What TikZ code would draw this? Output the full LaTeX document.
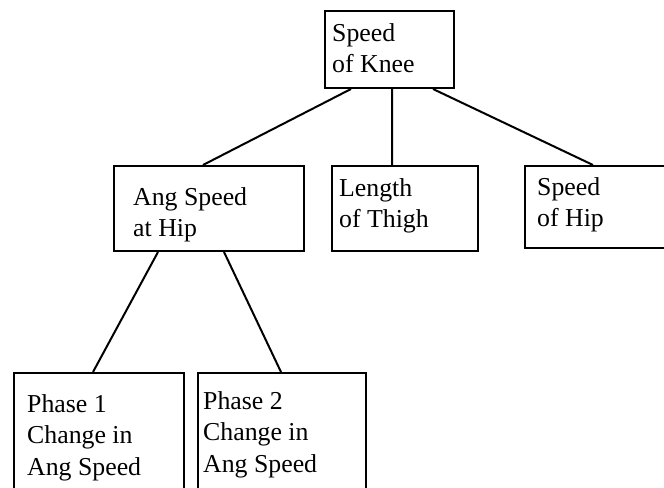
\documentclass[tikz,border=0pt]{standalone}
\usepackage{fontspec}
\setmainfont{Liberation Serif}
\begin{document}
\begin{tikzpicture}[x=1bp,y=-1bp,
  box/.style={draw,line width=2bp,rectangle,inner sep=0pt,anchor=north west},
  lbl/.style={anchor=base west,inner sep=0pt,font=\fontsize{25.9}{31.6}\selectfont,align=left},
  conn/.style={line width=2bp}]
\useasboundingbox (0,0) rectangle (664,488);
\clip (0,0) rectangle (664,488);
\fill[white] (0,0) rectangle (664,488);
% boxes
\node[box,minimum width=129bp,minimum height=77bp] (knee) at (324,10) {};
\node[box,minimum width=190bp,minimum height=85bp] (ang) at (113,165) {};
\node[box,minimum width=146bp,minimum height=85bp] (thigh) at (331,165) {};
\node[box,minimum width=160bp,minimum height=82bp] (hip) at (524,165) {};
\node[box,minimum width=170bp,minimum height=140bp] (ph1) at (13,372) {};
\node[box,minimum width=168bp,minimum height=140bp] (ph2) at (197,372) {};
% labels (anchored at the baseline of the last line)
\node[lbl] (tknee) at (332,73) {Speed\\of Knee};
\node[lbl] (tang) at (133,237) {Ang Speed\\at Hip};
\node[lbl] (tthigh) at (339,228) {Length\\of Thigh};
\node[lbl] (thip) at (537,227) {Speed\\of Hip};
\node[lbl] (tph1) at (27,475) {Phase 1\\Change in\\Ang Speed};
\node[lbl] (tph2) at (203,472) {Phase 2\\Change in\\Ang Speed};
% connectors
\draw[conn] ([xshift=27bp]knee.south west) -- ([xshift=90bp]ang.north west);
\draw[conn] ([xshift=68bp]knee.south west) -- ([xshift=61bp]thigh.north west);
\draw[conn] ([xshift=109bp]knee.south west) -- ([xshift=69bp]hip.north west);
\draw[conn] ([xshift=45bp]ang.south west) -- ([xshift=80bp]ph1.north west);
\draw[conn] ([xshift=111bp]ang.south west) -- ([xshift=84bp]ph2.north west);
\end{tikzpicture}
\end{document}
